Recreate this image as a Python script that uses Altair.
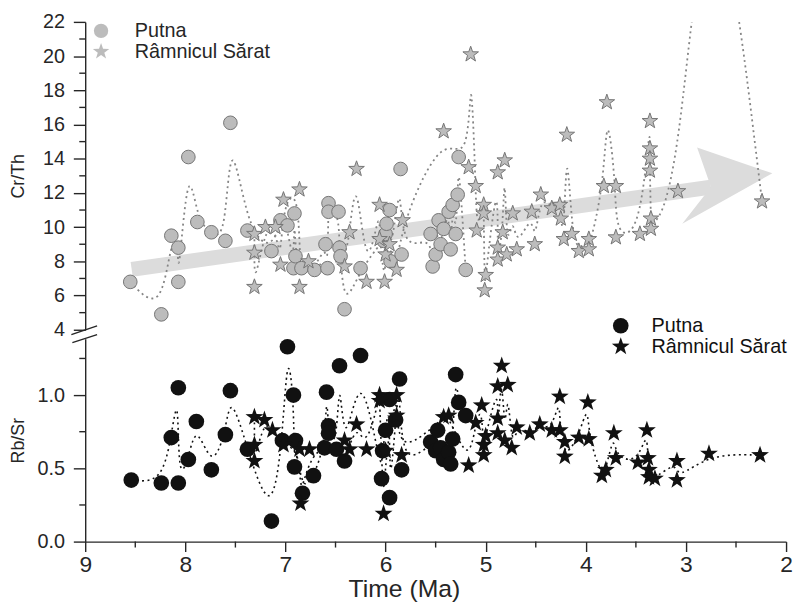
import altair as alt
import pandas as pd

FONT = "Liberation Sans"
INK = "#262626"
ARROW = "#dcdcdc"

series_names = ["Putna", "Râmnicul Sărat"]

# Cr/Th - Putna
putna_cr_ma = [8.55, 8.24, 8.14, 8.07, 8.07, 7.97, 7.88, 7.74, 7.60, 7.55, 7.38, 7.14, 7.05, 6.98, 6.92,
               6.91, 6.90, 6.84, 6.71, 6.60, 6.58, 6.57, 6.57, 6.47, 6.46, 6.45, 6.41, 6.25, 6.02, 6.00,
               5.99, 5.96, 5.95, 5.85, 5.84, 5.55, 5.53, 5.50, 5.47, 5.45, 5.42, 5.37, 5.35, 5.33, 5.30,
               5.28, 5.27, 5.20]
putna_cr_val = [6.8, 4.9, 9.5, 8.8, 6.8, 14.1, 10.3, 9.7, 9.2, 16.1, 9.8, 8.6, 10.4, 10.1, 7.6,
                10.8, 8.3, 7.6, 7.5, 9.0, 7.6, 11.4, 10.9, 10.9, 8.8, 8.3, 5.2, 7.6, 9.2, 9.6,
                10.2, 11.0, 8.0, 13.4, 8.4, 9.6, 7.7, 8.4, 10.4, 9.0, 9.9, 10.9, 8.7, 11.3, 9.6,
                11.9, 14.1, 7.5]

# Cr/Th - Râmnicul Sărat
ram_cr_ma = [7.31, 7.31, 7.31, 7.20, 7.10, 7.05, 7.02, 6.86, 6.86, 6.77, 6.41, 6.36, 6.29, 6.19,
             6.06, 6.06, 6.01, 6.00, 5.96, 5.89, 5.83, 5.42, 5.17, 5.15, 5.10, 5.09, 5.02, 5.02,
             5.01, 5.00, 4.88, 4.88, 4.88, 4.83, 4.81, 4.79, 4.73, 4.69, 4.54, 4.51, 4.45, 4.34,
             4.26, 4.25, 4.22, 4.19, 4.14, 4.07, 3.97, 3.97, 3.82, 3.79, 3.70, 3.70, 3.46, 3.36,
             3.36, 3.36, 3.36, 3.35, 3.35, 3.08, 2.75, 2.24]
ram_cr_val = [9.6, 8.5, 6.5, 10.0, 10.0, 7.8, 11.6, 12.2, 6.5, 8.0, 7.7, 9.7, 13.4, 6.8,
              11.3, 9.3, 6.8, 8.4, 9.0, 7.5, 10.4, 15.6, 13.5, 20.1, 12.4, 9.8, 11.3, 10.8,
              6.3, 7.2, 13.2, 8.8, 8.1, 9.7, 13.9, 8.4, 10.8, 8.7, 10.9, 9.0, 11.9, 11.1,
              11.3, 10.5, 9.3, 15.4, 9.6, 8.6, 9.3, 8.7, 12.4, 17.3, 12.4, 9.4, 9.6, 16.2,
              14.6, 14.0, 13.3, 10.5, 9.9, 12.1, 36.0, 11.5]

# Rb/Sr - Putna
putna_rb_ma = [8.54, 8.24, 8.14, 8.07, 8.07, 7.97, 7.89, 7.74, 7.60, 7.55, 7.38, 7.14, 7.03, 6.98,
               6.92, 6.91, 6.90, 6.83, 6.72, 6.61, 6.59, 6.57, 6.57, 6.49, 6.46, 6.41, 6.25, 6.04,
               6.03, 6.00, 5.96, 5.96, 5.90, 5.86, 5.84, 5.55, 5.50, 5.48, 5.45, 5.42, 5.37, 5.35,
               5.33, 5.30, 5.27, 5.20]
putna_rb_val = [0.42, 0.40, 0.71, 1.05, 0.40, 0.56, 0.82, 0.49, 0.73, 1.03, 0.63, 0.14, 0.69, 1.33,
                1.00, 0.51, 0.69, 0.33, 0.45, 0.64, 1.02, 0.79, 0.74, 0.63, 1.20, 0.55, 1.27, 0.43,
                0.62, 0.76, 0.97, 0.30, 0.83, 1.11, 0.49, 0.68, 0.62, 0.76, 0.64, 0.56, 0.61, 0.53,
                0.70, 1.14, 0.95, 0.86]

# Rb/Sr - Râmnicul Sărat
ram_rb_ma = [7.31, 7.31, 7.31, 7.21, 7.13, 7.02, 6.86, 6.85, 6.76, 6.41, 6.36, 6.29, 6.19, 6.06,
             6.06, 6.02, 6.00, 5.89, 5.89, 5.84, 5.42, 5.37, 5.17, 5.10, 5.04, 5.02, 5.02, 5.00,
             4.88, 4.88, 4.88, 4.84, 4.81, 4.78, 4.74, 4.69, 4.56, 4.46, 4.34, 4.26, 4.26, 4.21,
             4.21, 4.07, 3.98, 3.97, 3.84, 3.80, 3.72, 3.70, 3.48, 3.39, 3.38, 3.37, 3.37, 3.31,
             3.09, 3.09, 2.77, 2.26]
ram_rb_val = [0.85, 0.66, 0.55, 0.83, 0.76, 0.66, 0.63, 0.26, 0.63, 0.69, 0.63, 0.80, 0.63, 1.00,
              0.96, 0.19, 0.62, 1.00, 0.86, 0.59, 0.85, 0.86, 0.52, 0.81, 0.93, 0.59, 0.66, 0.72,
              1.06, 0.84, 0.74, 1.20, 0.69, 1.07, 0.64, 0.78, 0.74, 0.80, 0.76, 0.99, 0.76, 0.68,
              0.58, 0.71, 0.95, 0.70, 0.45, 0.49, 0.74, 0.57, 0.54, 0.76, 0.57, 0.49, 0.44, 0.43,
              0.55, 0.42, 0.60, 0.59]

# axes
x_ticks = [9, 8, 7, 6, 5, 4, 3, 2]
x_minor = [8.5, 7.5, 6.5, 5.5, 4.5, 3.5, 2.5]
cr_ticks = [4, 6, 8, 10, 12, 14, 16, 18, 20, 22]
cr_minor = [5, 7, 9, 11, 13, 15, 17, 19, 21]
rb_ticks = [0.0, 0.5, 1.0]
rb_minor = [0.25, 0.75, 1.25]

# trend arrow (shaft start/end, head at end)
arrow_ma = [8.536, 2.75]
arrow_val = [7.53, 12.34]
arrow_head_ma = [2.75]
arrow_head_val = [12.34]

HEAD_PATH = "M -0.226 -0.645 L 1 -0.226 L -0.468 0.597 L 0 0 Z"
# five-pointed star, a little larger than the unit box so it matches the circles visually
STAR = ("M 0 -1.2 L 0.282 -0.388 L 1.141 -0.371 L 0.456 0.148 L 0.705 0.971 "
        "L 0 0.48 L -0.705 0.971 L -0.456 0.148 L -1.141 -0.371 L -0.282 -0.388 Z")

GREY_FILL = "#bcbcbc"
GREY_EDGE = "#747474"


def series_frame(ma, val, name):
    return pd.DataFrame({"ma": ma, "val": val, "series": name, "i": list(range(len(ma)))})


top_pts = pd.concat([series_frame(putna_cr_ma, putna_cr_val, series_names[0]),
                     series_frame(ram_cr_ma, ram_cr_val, series_names[1])], ignore_index=True)
bot_pts = pd.concat([series_frame(putna_rb_ma, putna_rb_val, series_names[0]),
                     series_frame(ram_rb_ma, ram_rb_val, series_names[1])], ignore_index=True)

W, H1, H2 = 708, 311, 205
x_scale = alt.Scale(domain=[9, 2], nice=False, zero=False)
cr_scale = alt.Scale(domain=[4, 22], nice=False, zero=False)
rb_scale = alt.Scale(domain=[0, 1.385], nice=False, zero=False)

x_top = alt.X("ma:Q", scale=x_scale, axis=None)
x_bot = alt.X("ma:Q", scale=x_scale,
              axis=alt.Axis(values=x_ticks, format="d", tickSize=10, labelPadding=2,
                            labelFontSize=23, labelFlush=False, title="Time (Ma)",
                            titleFontSize=25, titlePadding=0, titleX=322))
y_top = alt.Y("val:Q", scale=cr_scale,
              axis=alt.Axis(values=cr_ticks, format="d", tickSize=12, labelPadding=9,
                            labelFontSize=20, title="Cr/Th", titleFontSize=18, titleX=-58))
y_bot = alt.Y("val:Q", scale=rb_scale,
              axis=alt.Axis(values=rb_ticks, format=".1f", tickSize=12, labelPadding=9,
                            labelFontSize=20, title="Rb/Sr", titleFontSize=18, titleX=-58))

# ---------- top panel ----------
shaft = alt.Chart(pd.DataFrame({"ma": arrow_ma, "val": arrow_val})).mark_line(
    color=ARROW, strokeWidth=15, strokeCap="butt").encode(x=x_top, y=y_top)
head = alt.Chart(pd.DataFrame({"ma": arrow_head_ma, "val": arrow_head_val})).mark_point(
    shape=HEAD_PATH, size=15376, filled=True, fill=ARROW, strokeWidth=0, opacity=1
).encode(x=x_top, y=y_top)

lines_top = alt.Chart(top_pts).mark_line(
    interpolate="basis", strokeDash=[2, 3.5], strokeWidth=1.8, color="#858585", clip=True
).encode(x=x_top, y=y_top, detail="series:N", order="i:Q")

pts_top = alt.Chart(top_pts).mark_point(
    filled=True, strokeWidth=1, opacity=1, size=190, clip=True
).encode(
    x=x_top, y=y_top,
    fill=alt.value(GREY_FILL),
    stroke=alt.value(GREY_EDGE),
    shape=alt.Shape("series:N", scale=alt.Scale(domain=series_names, range=["circle", STAR]),
                    legend=alt.Legend(title=None, orient="none", legendX=6, legendY=-1,
                                      direction="vertical", labelFont=FONT, labelFontSize=20,
                                      labelColor=INK, symbolSize=210, symbolFillColor=GREY_FILL,
                                      symbolStrokeColor=GREY_EDGE, symbolStrokeWidth=1,
                                      symbolOpacity=1, labelOffset=24, rowPadding=0, padding=0)),
)

minor_top = alt.Chart(pd.DataFrame({"val": cr_minor})).mark_rule(color=INK, strokeWidth=1.4).encode(
    y=y_top, x=alt.value(-6), x2=alt.value(0))
slash_top = alt.Chart(pd.DataFrame({"k": [0]})).mark_rule(color=INK, strokeWidth=1.4).encode(
    x=alt.value(-14), x2=alt.value(12), y=alt.value(H1 + 5), y2=alt.value(H1 - 4))

top = alt.layer(shaft, head, lines_top, pts_top, minor_top, slash_top).properties(width=W, height=H1)

# ---------- bottom panel ----------
lines_bot = alt.Chart(bot_pts).mark_line(
    interpolate="basis", strokeDash=[2, 3.5], strokeWidth=1.6, color="#111111"
).encode(x=x_bot, y=y_bot, detail="series:N", order="i:Q")

pts_bot = alt.Chart(bot_pts).mark_point(
    filled=True, fill="#111111", strokeWidth=0, opacity=1, size=250
).encode(
    x=x_bot, y=y_bot,
    shape=alt.Shape("series:N", scale=alt.Scale(domain=series_names, range=["circle", STAR]),
                    legend=alt.Legend(title=None, orient="none", legendX=531, legendY=-23,
                                      direction="vertical", labelFont=FONT, labelFontSize=20,
                                      labelColor="#111111", symbolSize=250, symbolFillColor="#111111",
                                      symbolStrokeWidth=0, symbolOpacity=1, labelOffset=21,
                                      rowPadding=1, padding=0)),
)

minor_bot_y = alt.Chart(pd.DataFrame({"val": rb_minor})).mark_rule(color=INK, strokeWidth=1.4).encode(
    y=y_bot, x=alt.value(-6), x2=alt.value(0))
minor_bot_x = alt.Chart(pd.DataFrame({"ma": x_minor})).mark_rule(color=INK, strokeWidth=1.4).encode(
    x=x_bot, y=alt.value(H2), y2=alt.value(H2 + 6))
slash_bot = alt.Chart(pd.DataFrame({"k": [0]})).mark_rule(color=INK, strokeWidth=1.4).encode(
    x=alt.value(-13), x2=alt.value(12), y=alt.value(4), y2=alt.value(-4))

bottom = alt.layer(lines_bot, pts_bot, minor_bot_y, minor_bot_x, slash_bot).properties(width=W, height=H2)

chart = alt.vconcat(top, bottom, spacing=9, bounds="flush").resolve_scale(
    shape="independent"
).resolve_legend(
    shape="independent"
).properties(
    padding={"left": 2, "top": 1, "right": 0, "bottom": 0}
).configure_view(stroke=None).configure_axis(
    domainColor=INK, tickColor=INK, domainWidth=1.4, tickWidth=1.4,
    labelColor=INK, titleColor=INK, labelFont=FONT, titleFont=FONT,
    grid=False, titleFontWeight="normal"
)

chart.save("out.html", embed_options={"renderer": "svg", "actions": False})
